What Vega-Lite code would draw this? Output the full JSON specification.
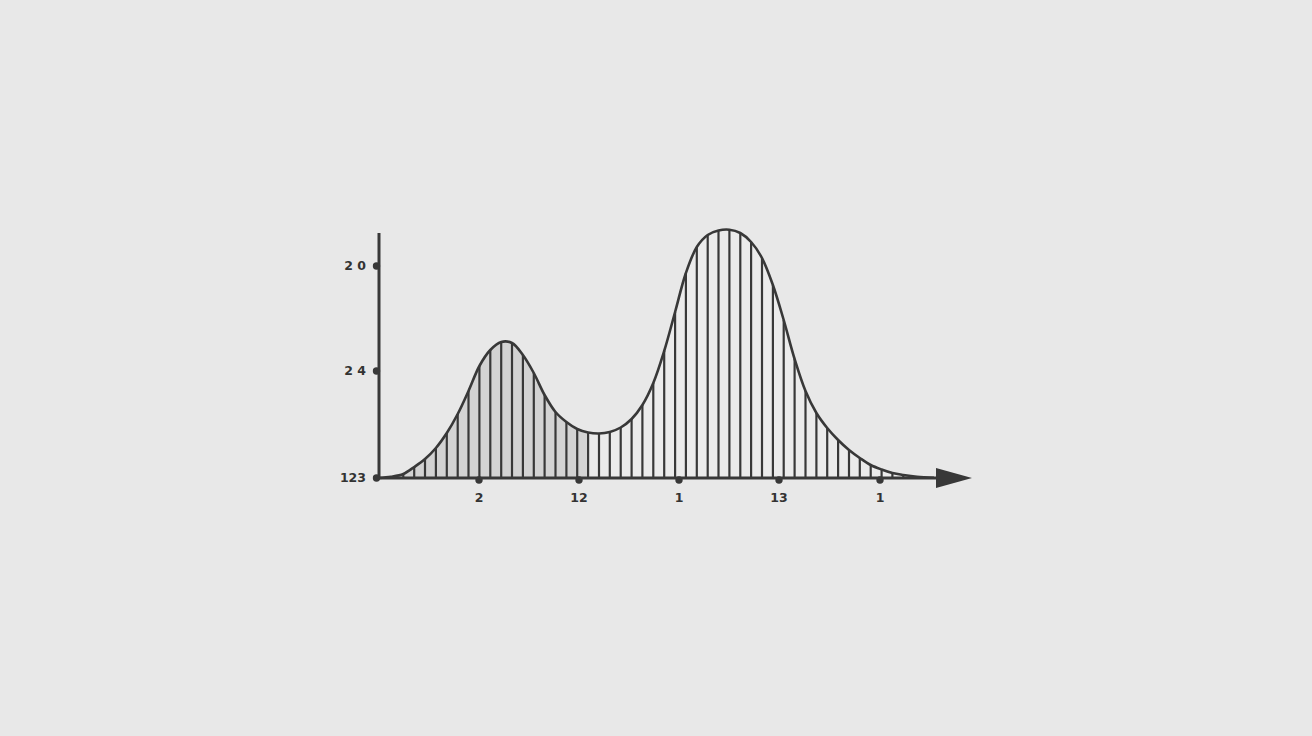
{
  "$schema": "https://vega.github.io/schema/vega-lite/v6.json",
  "autosize": {"type": "none"},
  "width": 600,
  "height": 250,
  "padding": {"left": 379, "top": 228, "right": 333, "bottom": 258},
  "background": "#e8e8e8",
  "config": {"view": {"stroke": null}},
  "datasets": {
    "curve": [
      {"x": 0, "y": 0, "hatch": false},
      {"x": 12, "y": 1.2, "hatch": false},
      {"x": 24.3, "y": 4, "hatch": true},
      {"x": 35.2, "y": 11, "hatch": true},
      {"x": 46, "y": 19, "hatch": true},
      {"x": 56.9, "y": 30, "hatch": true},
      {"x": 67.8, "y": 45, "hatch": true},
      {"x": 78.7, "y": 64, "hatch": true},
      {"x": 89.5, "y": 87, "hatch": true},
      {"x": 100.4, "y": 112, "hatch": true},
      {"x": 111.3, "y": 128, "hatch": true},
      {"x": 122.2, "y": 136, "hatch": true},
      {"x": 133, "y": 135, "hatch": true},
      {"x": 143.9, "y": 123, "hatch": true},
      {"x": 154.8, "y": 105, "hatch": true},
      {"x": 165.6, "y": 83, "hatch": true},
      {"x": 176.5, "y": 66, "hatch": true},
      {"x": 187.4, "y": 56, "hatch": true},
      {"x": 198.2, "y": 49, "hatch": true},
      {"x": 209.1, "y": 45.5, "hatch": true},
      {"x": 220, "y": 44.5, "hatch": true},
      {"x": 230.8, "y": 46, "hatch": true},
      {"x": 241.7, "y": 50.5, "hatch": true},
      {"x": 252.6, "y": 59, "hatch": true},
      {"x": 263.4, "y": 73, "hatch": true},
      {"x": 274.3, "y": 95, "hatch": true},
      {"x": 285.2, "y": 127, "hatch": true},
      {"x": 296.1, "y": 166, "hatch": true},
      {"x": 306.9, "y": 205, "hatch": true},
      {"x": 317.8, "y": 231, "hatch": true},
      {"x": 328.7, "y": 243, "hatch": true},
      {"x": 339.5, "y": 247.5, "hatch": true},
      {"x": 350.4, "y": 248.3, "hatch": true},
      {"x": 361.3, "y": 245, "hatch": true},
      {"x": 372.1, "y": 236, "hatch": true},
      {"x": 383, "y": 220, "hatch": true},
      {"x": 393.9, "y": 193, "hatch": true},
      {"x": 404.7, "y": 158, "hatch": true},
      {"x": 415.6, "y": 119, "hatch": true},
      {"x": 426.5, "y": 87, "hatch": true},
      {"x": 437.4, "y": 65, "hatch": true},
      {"x": 448.2, "y": 50, "hatch": true},
      {"x": 459.1, "y": 38, "hatch": true},
      {"x": 470, "y": 28, "hatch": true},
      {"x": 480.8, "y": 20, "hatch": true},
      {"x": 491.7, "y": 13, "hatch": true},
      {"x": 502.6, "y": 8.5, "hatch": true},
      {"x": 513.4, "y": 5, "hatch": true},
      {"x": 524.3, "y": 3, "hatch": true},
      {"x": 538, "y": 1.2, "hatch": false},
      {"x": 555, "y": 0.3, "hatch": false}
    ],
    "yticks": [
      {"y": 212, "label": "2 0"},
      {"y": 107, "label": "2 4"},
      {"y": 0, "label": "123"}
    ],
    "xticks": [
      {"x": 100, "label": "2"},
      {"x": 200, "label": "12"},
      {"x": 300, "label": "1"},
      {"x": 400, "label": "13"},
      {"x": 501, "label": "1"}
    ],
    "axes": [
      {"x": 0, "x2": 560, "y": 0, "y2": 0},
      {"x": 0, "x2": 0, "y": 0, "y2": 245}
    ],
    "arrow": [{"x": 575, "y": 0}]
  },
  "layer": [
    {
      "data": {"name": "curve"},
      "mark": {"type": "area", "interpolate": "catmull-rom", "color": "#ebebeb"},
      "encoding": {
        "x": {"field": "x", "type": "quantitative", "scale": {"domain": [0, 600], "zero": false, "nice": false}, "axis": null},
        "y": {"field": "y", "type": "quantitative", "scale": {"domain": [0, 250], "zero": false, "nice": false}, "axis": null}
      }
    },
    {
      "data": {"name": "curve"},
      "transform": [{"filter": "datum.x <= 212"}],
      "mark": {"type": "area", "interpolate": "catmull-rom", "color": "#d3d3d3"},
      "encoding": {
        "x": {"field": "x", "type": "quantitative", "scale": {"domain": [0, 600]}},
        "y": {"field": "y", "type": "quantitative", "scale": {"domain": [0, 250]}}
      }
    },
    {
      "data": {"name": "curve"},
      "transform": [{"filter": "datum.hatch"}],
      "mark": {"type": "rule", "color": "#383838", "strokeWidth": 2.2},
      "encoding": {
        "x": {"field": "x", "type": "quantitative"},
        "y": {"field": "y", "type": "quantitative"},
        "y2": {"datum": 0}
      }
    },
    {
      "data": {"name": "curve"},
      "mark": {"type": "line", "interpolate": "catmull-rom", "color": "#383838", "strokeWidth": 2.6},
      "encoding": {
        "x": {"field": "x", "type": "quantitative"},
        "y": {"field": "y", "type": "quantitative"}
      }
    },
    {
      "data": {"name": "yticks"},
      "mark": {"type": "point", "filled": true, "size": 55, "color": "#383838", "opacity": 1},
      "encoding": {
        "x": {"datum": -2.5},
        "y": {"field": "y", "type": "quantitative"}
      }
    },
    {
      "data": {"name": "xticks"},
      "mark": {"type": "point", "filled": true, "size": 55, "color": "#383838", "opacity": 1},
      "encoding": {
        "x": {"field": "x", "type": "quantitative"},
        "y": {"datum": -2}
      }
    },
    {
      "data": {"name": "axes"},
      "mark": {"type": "rule", "color": "#383838", "strokeWidth": 3},
      "encoding": {
        "x": {"field": "x", "type": "quantitative"},
        "x2": {"field": "x2"},
        "y": {"field": "y", "type": "quantitative"},
        "y2": {"field": "y2"}
      }
    },
    {
      "data": {"name": "arrow"},
      "mark": {"type": "point", "filled": true, "shape": "M-1,-0.55L1,0L-1,0.55Z", "size": 1296, "color": "#383838", "opacity": 1},
      "encoding": {
        "x": {"field": "x", "type": "quantitative"},
        "y": {"field": "y", "type": "quantitative"}
      }
    },
    {
      "data": {"name": "yticks"},
      "mark": {"type": "text", "align": "right", "baseline": "middle", "dx": -13, "font": "DejaVu Sans", "fontWeight": "bold", "fontSize": 12.5, "color": "#333333"},
      "encoding": {
        "x": {"datum": 0},
        "y": {"field": "y", "type": "quantitative"},
        "text": {"field": "label"}
      }
    },
    {
      "data": {"name": "xticks"},
      "mark": {"type": "text", "align": "center", "baseline": "middle", "dy": 19.5, "font": "DejaVu Sans", "fontWeight": "bold", "fontSize": 12.5, "color": "#333333"},
      "encoding": {
        "x": {"field": "x", "type": "quantitative"},
        "y": {"datum": 0},
        "text": {"field": "label"}
      }
    }
  ]
}
